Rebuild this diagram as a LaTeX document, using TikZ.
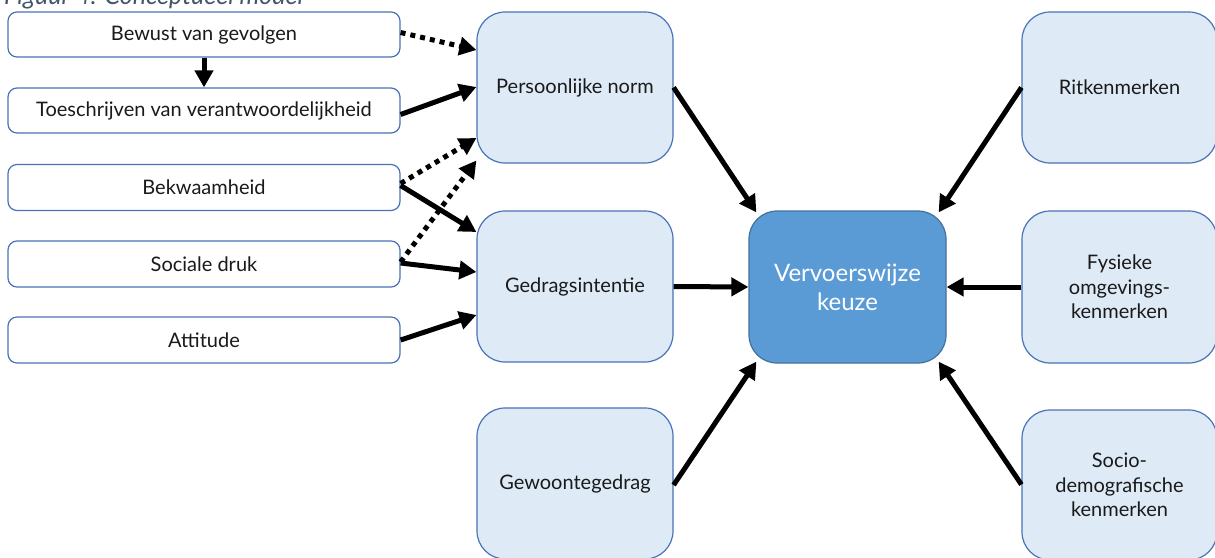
\documentclass[tikz,border=0pt]{standalone}
\usepackage{fontspec}
\setmainfont{Lato}
\usetikzlibrary{arrows.meta}
\definecolor{lightfill}{HTML}{DEEBF7}
\definecolor{boxborder}{HTML}{4A72B8}
\definecolor{mainfill}{HTML}{5B9BD5}
\definecolor{mainborder}{HTML}{41719C}
\definecolor{captioncol}{HTML}{44546A}
\definecolor{textcol}{HTML}{1A1A1A}
\begin{document}
\begin{tikzpicture}[x=1pt,y=-1pt,
  leftbox/.style={draw=boxborder, line width=1.2pt, fill=white, rounded corners=9pt,
    minimum width=392pt, minimum height=45pt, inner sep=0pt, text=textcol,
    font=\fontsize{20}{24}\selectfont},
  midbox/.style={draw=boxborder, line width=1.2pt, fill=lightfill, rounded corners=28pt,
    minimum width=196pt, minimum height=151pt, inner sep=0pt, align=center, text=textcol,
    font=\fontsize{20}{24.5}\selectfont},
  mainbox/.style={midbox, fill=mainfill, draw=mainborder, text=white,
    font=\fontsize{24}{29}\selectfont},
  conn/.style={line width=5pt, -{Triangle[length=17pt,width=18pt]}},
  dotconn/.style={conn, dash pattern=on 5pt off 5pt},
]
\useasboundingbox (0,0) rectangle (1215,557);
\begin{scope}
\clip (0,0) rectangle (1215,557);
\node[anchor=base west, inner sep=0pt, text=captioncol, font=\itshape\fontsize{25}{28}\selectfont] (cap) at (4,4) {Figuur 4: Conceptueel model};

\node[leftbox] (bewust) at (204,34.5) {Bewust van gevolgen};
\node[leftbox] (toesch) at (204,110.5) {Toeschrijven van verantwoordelijkheid};
\node[leftbox, minimum height=46pt] (bekwaam) at (204,187.5) {Bekwaamheid};
\node[leftbox, minimum height=46pt] (sociale) at (204,264) {Sociale druk};
\node[leftbox, minimum height=46pt] (attitude) at (204,340) {Attitude};

\node[midbox] (norm) at (575,87.5) {Persoonlijke norm};
\node[midbox] (intentie) at (575,286.5) {Gedragsintentie};
\node[midbox] (gewoonte) at (575,483.5) {Gewoontegedrag};

\node[mainbox, minimum width=197pt, minimum height=152pt] (vk) at (847.5,287) {Vervoerswijze\\keuze};

\node[midbox, minimum width=195pt] (rit) at (1119.5,87.5) {Ritkenmerken};
\node[midbox, minimum width=195pt, minimum height=152pt] (fys) at (1119.5,287) {Fysieke\\omgevings-\\kenmerken};
\node[midbox, minimum width=195pt, minimum height=150pt] (socio) at (1119.5,485) {Socio-\\demografische\\kenmerken};

% connectors
\draw[dotconn] ([yshift=2pt]bewust.east) -- ([yshift=37.5pt]norm.west);
\draw[conn] (bewust.south) -- (toesch.north);
\draw[conn] ([yshift=-4pt]toesch.east) -- ([yshift=0.5pt]norm.west);
\draw[dotconn] ([yshift=4pt]bekwaam.east) -- ([yshift=-50.5pt]norm.west);
\draw[conn] ([yshift=2pt]bekwaam.east) -- ([yshift=54.5pt]intentie.west);
\draw[dotconn] ([yshift=2pt]sociale.east) -- ([yshift=-73pt]norm.west);
\draw[conn] ([yshift=1pt]sociale.east) -- ([yshift=14.5pt]intentie.west);
\draw[conn] (attitude.east) -- ([yshift=-28.5pt]intentie.west);

\draw[conn] (norm.east) -- ([xshift=8pt,yshift=-2pt]vk.north west);
\draw[conn] (intentie.east) -- (vk.west);
\draw[conn] ([yshift=-1.5pt]gewoonte.east) -- ([xshift=8pt,yshift=2pt]vk.south west);
\draw[conn] (rit.west) -- ([xshift=-8pt,yshift=-2pt]vk.north east);
\draw[conn] (fys.west) -- (vk.east);
\draw[conn] ([yshift=0.5pt]socio.west) -- ([xshift=-8pt,yshift=2pt]vk.south east);
\end{scope}
\end{tikzpicture}
\end{document}
